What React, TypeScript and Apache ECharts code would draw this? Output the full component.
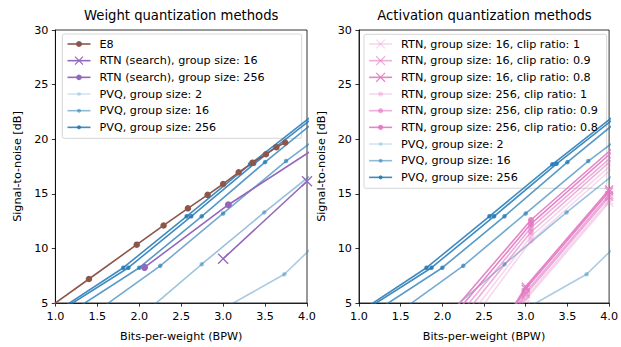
import React, { useEffect, useRef } from "react";
import * as echarts from "echarts";

const FONT = "DejaVu Sans";
const FS = 11.2;

// ---------- Left panel: weight quantization ----------
const E8_BPW = [0.8, 1.4, 1.97, 2.29, 2.58, 2.815, 3.0, 3.185, 3.35, 3.51, 3.635, 3.74];
const E8_SNR = [3.9, 7.2, 10.34, 12.1, 13.67, 14.9, 15.9, 16.97, 17.85, 18.62, 19.27, 19.7];

const RTN_SEARCH_G16_BPW = [3.0, 4.0];
const RTN_SEARCH_G16_SNR = [9.05, 16.15];
const RTN_SEARCH_G256_BPW = [2.0625, 3.0625, 4.0625];
const RTN_SEARCH_G256_SNR = [8.26, 14.0, 19.0];

// ---------- PVQ (shared by both panels) ----------
const PVQ_G256_A_BPW = [0.97, 1.81, 2.565, 3.32, 4.07];
const PVQ_G256_A_SNR = [4.0, 8.23, 12.94, 17.7, 22.2];
const PVQ_G256_B_BPW = [1.0, 1.87, 2.62, 3.37, 4.12];
const PVQ_G256_B_SNR = [4.0, 8.23, 12.94, 17.75, 22.25];
const PVQ_G256_C_BPW = [1.15, 2.0, 2.745, 3.5, 4.25];
const PVQ_G256_C_SNR = [4.0, 8.23, 12.94, 17.9, 22.6];
const PVQ_G16_A_BPW = [1.45, 2.25, 3.0, 3.75, 4.5];
const PVQ_G16_A_SNR = [4.0, 8.4, 13.2, 18.0, 22.3];
const PVQ_G16_B_BPW = [2.05, 2.745, 3.49, 4.24];
const PVQ_G16_B_SNR = [4.0, 8.55, 13.3, 17.9];
const PVQ_G2_BPW = [2.89, 3.73, 4.48];
const PVQ_G2_SNR = [4.0, 7.63, 13.2];

// ---------- Right panel: activation quantization (RTN) ----------
const RTN_G256_BPW = [2.0625, 3.0625, 4.0625];
const RTN_G256_C08_A = [3.7, 12.6, 19.3];
const RTN_G256_C08_B = [3.2, 12.25, 19.0];
const RTN_G256_C09_A = [2.6, 11.9, 18.6];
const RTN_G256_C09_B = [2.0, 11.5, 18.3];
const RTN_G256_C1_A = [1.2, 11.1, 17.9];
const RTN_G256_C1_B = [0.4, 10.7, 17.5];

const RTN_G16_BPW = [2.0, 3.0, 4.0];
const RTN_G16_C08_A = [-6.0, 6.5, 15.4];
const RTN_G16_C08_B = [-6.4, 6.3, 15.2];
const RTN_G16_C09_A = [-6.8, 6.0, 14.9];
const RTN_G16_C09_B = [-7.2, 5.8, 14.7];
const RTN_G16_C1_A = [-7.6, 5.5, 14.4];
const RTN_G16_C1_B = [-8.0, 5.3, 14.2];

// names
const N_E8 = "E8";
const N_RS16 = "RTN (search), group size: 16";
const N_RS256 = "RTN (search), group size: 256";
const N_P2 = "PVQ, group size: 2";
const N_P16 = "PVQ, group size: 16";
const N_P256 = "PVQ, group size: 256";
const N_R16_1 = "RTN, group size: 16, clip ratio: 1";
const N_R16_09 = "RTN, group size: 16, clip ratio: 0.9";
const N_R16_08 = "RTN, group size: 16, clip ratio: 0.8";
const N_R256_1 = "RTN, group size: 256, clip ratio: 1";
const N_R256_09 = "RTN, group size: 256, clip ratio: 0.9";
const N_R256_08 = "RTN, group size: 256, clip ratio: 0.8";

const BROWN = "#8c564b";
const PURPLE = "#9467bd";
const pink = (a: number) => `rgba(227,119,194,${a})`;
const blue = (a: number) => `rgba(31,119,180,${a})`;
const X_SYMBOL = "path://M0,0L10,10M0,10L10,0";

const pts = (xs: number[], ys: number[]) => xs.map((x, i) => [x, ys[i]]);

function mk(name: string, xs: number[], ys: number[], color: string, symbol: string, size: number, axis: number) {
  const isX = symbol === X_SYMBOL;
  return {
    type: "line",
    name,
    xAxisIndex: axis,
    yAxisIndex: axis,
    data: pts(xs, ys),
    symbol,
    symbolSize: size,
    clip: true,
    silent: true,
    lineStyle: { color, width: 1.6 },
    itemStyle: isX ? { color, borderColor: color, borderWidth: 1.3 } : { color, borderWidth: 0 },
    emphasis: { disabled: true },
  };
}

function pvqSeries(axis: number) {
  return [
    mk(N_P2, PVQ_G2_BPW, PVQ_G2_SNR, blue(0.38), "circle", 4.5, axis),
    mk(N_P16, PVQ_G16_B_BPW, PVQ_G16_B_SNR, blue(0.45), "circle", 4.5, axis),
    mk(N_P16, PVQ_G16_A_BPW, PVQ_G16_A_SNR, blue(0.62), "circle", 4.5, axis),
    mk(N_P256, PVQ_G256_C_BPW, PVQ_G256_C_SNR, blue(0.75), "circle", 4.5, axis),
    mk(N_P256, PVQ_G256_B_BPW, PVQ_G256_B_SNR, blue(0.85), "circle", 4.5, axis),
    mk(N_P256, PVQ_G256_A_BPW, PVQ_G256_A_SNR, blue(0.85), "circle", 4.5, axis),
  ];
}

const series = [
  ...pvqSeries(0),
  mk(N_RS16, RTN_SEARCH_G16_BPW, RTN_SEARCH_G16_SNR, PURPLE, X_SYMBOL, 10, 0),
  mk(N_RS256, RTN_SEARCH_G256_BPW, RTN_SEARCH_G256_SNR, PURPLE, "circle", 7, 0),
  mk(N_E8, E8_BPW, E8_SNR, BROWN, "circle", 6.5, 0),
  ...pvqSeries(1),
  mk(N_R16_1, RTN_G16_BPW, RTN_G16_C1_B, pink(0.3), X_SYMBOL, 8, 1),
  mk(N_R16_1, RTN_G16_BPW, RTN_G16_C1_A, pink(0.3), X_SYMBOL, 8, 1),
  mk(N_R16_09, RTN_G16_BPW, RTN_G16_C09_B, pink(0.6), X_SYMBOL, 8, 1),
  mk(N_R16_09, RTN_G16_BPW, RTN_G16_C09_A, pink(0.6), X_SYMBOL, 8, 1),
  mk(N_R16_08, RTN_G16_BPW, RTN_G16_C08_B, pink(0.9), X_SYMBOL, 8, 1),
  mk(N_R16_08, RTN_G16_BPW, RTN_G16_C08_A, pink(0.9), X_SYMBOL, 8, 1),
  mk(N_R256_1, RTN_G256_BPW, RTN_G256_C1_B, pink(0.3), "circle", 6, 1),
  mk(N_R256_1, RTN_G256_BPW, RTN_G256_C1_A, pink(0.3), "circle", 6, 1),
  mk(N_R256_09, RTN_G256_BPW, RTN_G256_C09_B, pink(0.6), "circle", 6, 1),
  mk(N_R256_09, RTN_G256_BPW, RTN_G256_C09_A, pink(0.6), "circle", 6, 1),
  mk(N_R256_08, RTN_G256_BPW, RTN_G256_C08_B, pink(0.9), "circle", 6, 1),
  mk(N_R256_08, RTN_G256_BPW, RTN_G256_C08_A, pink(0.9), "circle", 6, 1),
];

type LegendSpec = [string, string, boolean, number];
const LEFT_LEGEND: LegendSpec[] = [
  [N_E8, BROWN, false, 7.5],
  [N_RS16, PURPLE, true, 10],
  [N_RS256, PURPLE, false, 7],
  [N_P2, blue(0.2), false, 5],
  [N_P16, blue(0.5), false, 5],
  [N_P256, blue(0.85), false, 5],
];
const RIGHT_LEGEND: LegendSpec[] = [
  [N_R16_1, pink(0.3), true, 11],
  [N_R16_09, pink(0.6), true, 11],
  [N_R16_08, pink(0.9), true, 11],
  [N_R256_1, pink(0.3), false, 6.5],
  [N_R256_09, pink(0.6), false, 6.5],
  [N_R256_08, pink(0.9), false, 6.5],
  [N_P2, blue(0.2), false, 5],
  [N_P16, blue(0.5), false, 5],
  [N_P256, blue(0.85), false, 5],
];

function buildLegends(specs: LegendSpec[], left: number, firstCenter: number, step: number) {
  return specs.map(([name, color, isX, h], i) => ({
    show: true,
    orient: "vertical",
    left,
    top: firstCenter + i * step - 6.5,
    padding: 0,
    itemGap: 0,
    itemWidth: 23,
    itemHeight: h,
    selectedMode: false,
    data: [name],
    z: 5,
    textStyle: { color: "#000", fontSize: FS, fontFamily: FONT, lineHeight: 13, padding: [0, 0, 0, 4] },
    lineStyle: { color, width: 1.6 },
    itemStyle: isX ? { color, borderColor: color, borderWidth: 1.2 } : { color, borderWidth: 0 },
  }));
}

function xAxis(i: number) {
  return {
    type: "value",
    gridIndex: i,
    min: 1,
    max: 4,
    interval: 0.5,
    name: "Bits-per-weight (BPW)",
    nameLocation: "middle",
    nameGap: 28,
    nameTextStyle: { fontSize: FS, color: "#000", fontFamily: FONT },
    axisLine: { show: true, lineStyle: { color: "#000", width: 0.8 } },
    axisTick: { show: true, length: 3.6, lineStyle: { color: "#000", width: 0.8 } },
    axisLabel: { color: "#000", fontSize: FS, fontFamily: FONT, margin: 8, formatter: (v: number) => v.toFixed(1) },
    splitLine: { show: false },
  };
}
function yAxis(i: number) {
  return {
    type: "value",
    gridIndex: i,
    min: 5,
    max: 30,
    interval: 5,
    name: "Signal-to-noise [dB]",
    nameLocation: "middle",
    nameGap: 32,
    nameTextStyle: { fontSize: FS, color: "#000", fontFamily: FONT },
    axisLine: { show: true, lineStyle: { color: "#000", width: 0.8 } },
    axisTick: { show: true, length: 3.6, lineStyle: { color: "#000", width: 0.8 } },
    axisLabel: { color: "#000", fontSize: FS, fontFamily: FONT, margin: 7 },
    splitLine: { show: false },
  };
}

export default function App() {
  const ref = useRef<HTMLDivElement>(null);
  useEffect(() => {
    if (!ref.current) return;
    const chart = echarts.init(ref.current, null, { renderer: "svg" });
    chart.setOption({
      animation: false,
      backgroundColor: "#fff",
      grid: [
        { left: 55.4, top: 30, width: 251.6, height: 275, show: true, borderColor: "#000", borderWidth: 0.8, backgroundColor: "transparent" },
        { left: 359, top: 30, width: 251, height: 275, show: true, borderColor: "#000", borderWidth: 0.8, backgroundColor: "transparent" },
      ],
      xAxis: [xAxis(0), xAxis(1)],
      yAxis: [yAxis(0), yAxis(1)],
      legend: [...buildLegends(LEFT_LEGEND, 66.7, 44, 16.67), ...buildLegends(RIGHT_LEGEND, 368.3, 44, 16.67)],
      graphic: {
        elements: [
          { type: "rect", z: 3, silent: true, shape: { x: 62.3, y: 34, width: 239.4, height: 104.3, r: 2 }, style: { fill: "rgba(255,255,255,0.8)", stroke: "#cccccc", lineWidth: 0.8 } },
          { type: "rect", z: 3, silent: true, shape: { x: 364, y: 34.3, width: 242.7, height: 154, r: 2 }, style: { fill: "rgba(255,255,255,0.8)", stroke: "#cccccc", lineWidth: 0.8 } },
          { type: "text", x: 181.2, y: 15, silent: true, style: { text: "Weight quantization methods", align: "center", verticalAlign: "middle", fill: "#000", font: `13.2px '${FONT}'` } },
          { type: "text", x: 484.5, y: 15, silent: true, style: { text: "Activation quantization methods", align: "center", verticalAlign: "middle", fill: "#000", font: `13.2px '${FONT}'` } },
        ],
      },
      series,
    });
    return () => chart.dispose();
  }, []);
  return <div ref={ref} style={{ position: "absolute", left: 0, top: 0, width: 621, height: 347 }} />;
}
